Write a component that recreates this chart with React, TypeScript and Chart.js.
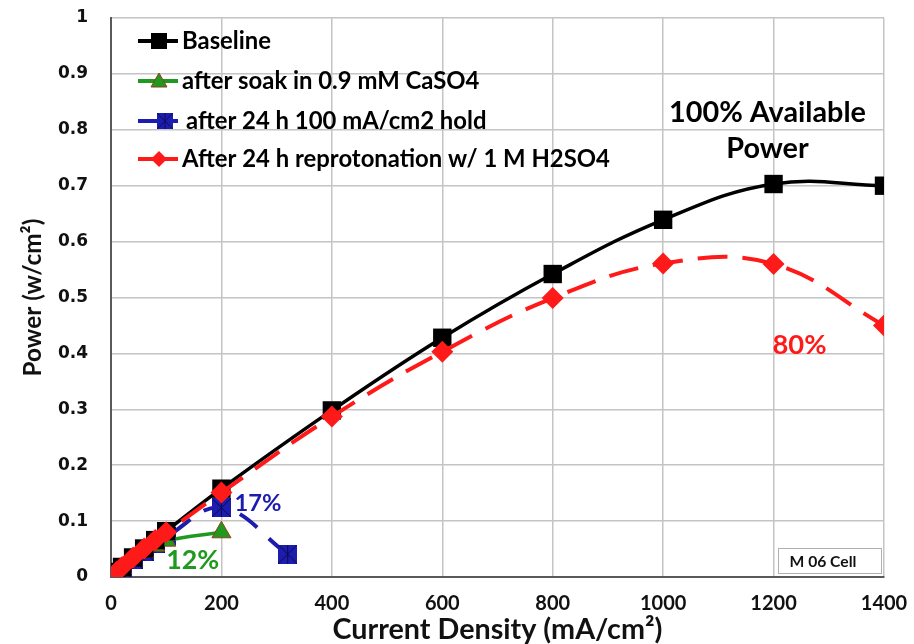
import React, { useEffect, useRef } from "react";
import { Chart, registerables } from "chart.js";

Chart.register(...registerables);

// ---- data ----
const baselineX = [0, 10, 20, 40, 60, 80, 100, 200, 400, 600, 800, 1000, 1200, 1400];
const baselineY = [0, 0.009, 0.018, 0.035, 0.051, 0.066, 0.082, 0.158, 0.298, 0.428, 0.542, 0.639, 0.703, 0.7];
const soakX = [0, 10, 20, 40, 60, 80, 100, 200];
const soakY = [0, 0.008, 0.016, 0.031, 0.045, 0.056, 0.065, 0.08];
const holdX = [0, 10, 20, 40, 60, 80, 100, 200, 320];
const holdY = [0, 0.008, 0.016, 0.032, 0.046, 0.06, 0.072, 0.124, 0.041];
const reproX = [0, 10, 20, 40, 60, 80, 100, 200, 400, 600, 800, 1000, 1200, 1400];
const reproY = [0, 0.009, 0.018, 0.035, 0.051, 0.066, 0.08, 0.151, 0.287, 0.403, 0.499, 0.561, 0.56, 0.45];

const seriesNames = [
  "Baseline",
  "after soak in 0.9 mM CaSO4",
  "after 24 h 100 mA/cm2 hold",
  "After 24 h reprotonation w/ 1 M H2SO4",
];
const xTicks = [0, 200, 400, 600, 800, 1000, 1200, 1400];
const xTitle = "Current Density (mA/cm²)";
const yTitle = "Power (w/cm²)";

const BLACK = "#000000";
const GREEN = "#1f9a1f";
const BLUE = "#1c1cae";
const RED = "#ff1a1a";

const toPts = (xs: number[], ys: number[]) => xs.map((x, i) => ({ x, y: ys[i] }));

function makeBlueMarker(size: number) {
  const c = document.createElement("canvas");
  c.width = size;
  c.height = size;
  const g = c.getContext("2d")!;
  g.fillStyle = BLUE;
  g.fillRect(0, 0, size, size);
  g.strokeStyle = "#0a0a50";
  g.lineWidth = 1;
  g.beginPath();
  g.moveTo(0, 0);
  g.lineTo(size, size);
  g.moveTo(size, 0);
  g.lineTo(0, size);
  g.moveTo(size / 2, 0);
  g.lineTo(size / 2, size);
  g.stroke();
  return c;
}

function fitSize(ctx: CanvasRenderingContext2D, text: string, width: number, family: string) {
  ctx.font = `bold 100px ${family}`;
  const w = ctx.measureText(text).width;
  return (100 * width) / w;
}

const FONT = "Lato, 'Open Sans', sans-serif";

let blueMarker: HTMLCanvasElement;

const zeroPad = (s: any) => {
  s.paddingTop = 0;
  s.paddingBottom = 0;
  s.paddingLeft = 0;
  s.paddingRight = 0;
};

const overlayPlugin = {
  id: "overlay",
  afterDraw(chart: any) {
    const ctx: CanvasRenderingContext2D = chart.ctx;
    const xs = chart.scales.x;
    const ys = chart.scales.y;
    ctx.save();

    // Legend
    const legSize = fitSize(ctx, seriesNames[3], 428, FONT);
    const rows = [41, 81, 121, 159];
    const colors = [BLACK, GREEN, BLUE, RED];
    rows.forEach((ry, i) => {
      ctx.strokeStyle = colors[i];
      ctx.lineWidth = 4;
      ctx.setLineDash([]);
      ctx.beginPath();
      ctx.moveTo(138, ry);
      ctx.lineTo(178, ry);
      ctx.stroke();
      const mx = 159;
      if (i === 0) {
        ctx.fillStyle = BLACK;
        ctx.fillRect(mx - 8, ry - 8, 16, 16);
      } else if (i === 1) {
        ctx.fillStyle = GREEN;
        ctx.strokeStyle = "#9a3a1a";
        ctx.lineWidth = 1;
        ctx.beginPath();
        ctx.moveTo(mx, ry - 8);
        ctx.lineTo(mx + 8, ry + 6);
        ctx.lineTo(mx - 8, ry + 6);
        ctx.closePath();
        ctx.fill();
        ctx.stroke();
      } else if (i === 2) {
        ctx.drawImage(blueMarker, mx - 2, ry - 8, 16, 16);
      } else {
        ctx.fillStyle = RED;
        ctx.beginPath();
        ctx.moveTo(mx, ry - 8);
        ctx.lineTo(mx + 8, ry);
        ctx.lineTo(mx, ry + 8);
        ctx.lineTo(mx - 8, ry);
        ctx.closePath();
        ctx.fill();
      }
      ctx.fillStyle = "#000";
      ctx.font = `bold ${legSize}px ${FONT}`;
      ctx.textAlign = "left";
      ctx.textBaseline = "middle";
      ctx.fillText(seriesNames[i], i === 2 ? 186 : 182, ry);
    });

    // Annotations
    const label = (text: string, xv: number, yv: number, color: string, width: number, sizeRef?: number) => {
      const s = sizeRef ?? fitSize(ctx, text, width, FONT);
      ctx.font = `bold ${s}px ${FONT}`;
      ctx.fillStyle = color;
      ctx.textAlign = "center";
      ctx.textBaseline = "middle";
      ctx.fillText(text, xs.getPixelForValue(xv), ys.getPixelForValue(yv));
      return s;
    };
    const s100 = label("100% Available", 1189, 0.83, "#000", 197);
    label("Power", 1189, 0.766, "#000", 0, s100);
    label("80%", 1247, 0.415, RED, 54);
    label("17%", 266, 0.131, BLUE, 47);
    label("12%", 148, 0.03, GREEN, 53);

    // M 06 Cell box
    ctx.fillStyle = "#ffffff";
    ctx.fillRect(778, 548, 103, 25);
    ctx.strokeStyle = "#b0b0b0";
    ctx.lineWidth = 1;
    ctx.strokeRect(778.5, 548.5, 103, 25);
    ctx.fillStyle = "#111";
    const ms = fitSize(ctx, "M 06 Cell", 67, FONT);
    ctx.font = `bold ${ms}px ${FONT}`;
    ctx.textAlign = "center";
    ctx.textBaseline = "middle";
    ctx.fillText("M 06 Cell", 823, 562);

    ctx.restore();
  },
};

export default function App() {
  const ref = useRef<HTMLCanvasElement>(null);
  useEffect(() => {
    document.body.style.margin = "0";
    blueMarker = makeBlueMarker(19);
    const mctx = document.createElement("canvas").getContext("2d")!;
    const xTitleSize = fitSize(mctx, xTitle, 330, FONT);
    const yTitleSize = fitSize(mctx, yTitle, 158, FONT);
    const chart = new Chart(ref.current!, {
      type: "line",
      data: {
        datasets: [
          {
            label: seriesNames[3],
            data: toPts(reproX, reproY),
            borderColor: RED,
            backgroundColor: RED,
            borderWidth: 4,
            borderDash: [30, 15],
            pointStyle: "rectRot",
            pointRadius: 11,
            pointBorderWidth: 0,
            tension: 0.4,
            order: 0,
          },
          {
            label: seriesNames[0],
            data: toPts(baselineX, baselineY),
            borderColor: BLACK,
            backgroundColor: BLACK,
            borderWidth: 3.5,
            pointStyle: "rect",
            pointRadius: 13,
            pointBorderWidth: 0,
            tension: 0.4,
            order: 1,
          },
          {
            label: seriesNames[1],
            data: toPts(soakX, soakY),
            borderColor: GREEN,
            backgroundColor: GREEN,
            pointBorderColor: "#9a3a1a",
            borderWidth: 3.5,
            pointStyle: "triangle",
            pointRadius: 11,
            pointBorderWidth: 1,
            tension: 0.4,
            order: 2,
          },
          {
            label: seriesNames[2],
            data: toPts(holdX, holdY),
            borderColor: BLUE,
            backgroundColor: BLUE,
            borderWidth: 4,
            borderDash: [22, 16],
            pointStyle: blueMarker,
            pointRadius: 10,
            tension: 0.4,
            order: 3,
          },
        ],
      },
      options: {
        animation: false,
        responsive: false,
        layout: { autoPadding: false, padding: { top: 18, right: 30, left: 0, bottom: 0 } },
        plugins: { legend: { display: false }, tooltip: { enabled: false } },
        scales: {
          x: {
            type: "linear",
            min: 0,
            max: 1400,
            afterBuildTicks: (s: any) => {
              s.ticks = xTicks.map((v) => ({ value: v }));
            },
            afterFit: (s: any) => {
              s.height = 67;
              zeroPad(s);
            },
            ticks: {
              font: { family: FONT, weight: "bold", size: 20 },
              color: "#111",
              padding: 15,
              maxRotation: 0,
              callback: (v: any) => String(v),
            },
            grid: { color: "#c4c4c4", lineWidth: 1.5, drawTicks: false },
            border: { color: "#5a5a5a", width: 2 },
            title: {
              display: true,
              text: xTitle,
              font: { family: FONT, weight: "bold", size: xTitleSize, lineHeight: 1 },
              color: "#111",
              padding: 0,
            },
          },
          y: {
            min: 0,
            max: 1,
            afterFit: (s: any) => {
              s.width = 111;
              zeroPad(s);
            },
            ticks: {
              stepSize: 0.1,
              font: { family: "'DejaVu Sans', sans-serif", weight: "bold", size: 17 },
              color: "#111",
              padding: 23,
              callback: (v: any) => String(Number(Number(v).toFixed(1))),
            },
            grid: { color: "#c4c4c4", lineWidth: 1.5, drawTicks: false },
            border: { color: "#5a5a5a", width: 2 },
            title: {
              display: true,
              text: yTitle,
              font: { family: FONT, weight: "bold", size: yTitleSize, lineHeight: 1 },
              color: "#111",
              padding: Math.max(0, 33 - yTitleSize / 2),
            },
          },
        },
      },
      plugins: [overlayPlugin],
    } as any);
    return () => chart.destroy();
  }, []);
  return (
    <div style={{ position: "absolute", left: 0, top: 0, width: 914, height: 644 }}>
      <canvas ref={ref} width={914} height={644} style={{ width: 914, height: 644 }} />
    </div>
  );
}
